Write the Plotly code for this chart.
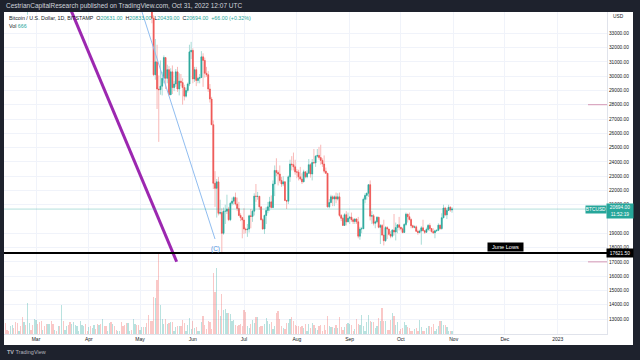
import plotly.graph_objects as go
import pandas as pd

# ---------------- data ----------------
dates = pd.date_range("2022-02-11", "2022-10-31", freq="D")
first_open = 43550
last_open = 20631      # open of the current (Oct 31) bar, from the legend

close = [
    # Feb 11-28
    42400, 42200, 42050, 42550, 44550, 43900, 40550, 40000, 40100, 38400, 37050, 38250, 37250, 38350, 39200, 39100, 37700, 43200,
    # Mar
    44400, 43900, 42450, 39150, 39400, 38400, 38050, 38750, 41950, 39450, 38750, 38800, 37800, 39650, 39300, 41100, 40950, 41800,
    42200, 41250, 41050, 42350, 42900, 43950, 44350, 44500, 46800, 47100, 47450, 47050, 45500,
    # Apr
    46300, 45800, 46400, 46600, 45500, 43200, 43450, 42250, 42750, 42150, 39500, 40100, 41150, 39950, 40550, 40400, 39700, 40800,
    41500, 41350, 40500, 39700, 39450, 39450, 40450, 38100, 39250, 39750, 38600, 37650,
    # May
    38450, 38500, 37700, 39700, 36550, 36000, 35450, 34050, 30100, 31000, 29100, 29050, 29300, 29850, 31300, 29850, 30450, 28700,
    30300, 29200, 29450, 30300, 29100, 29650, 29550, 29200, 28600, 29000, 29450, 31700, 31800,
    # Jun
    29800, 30450, 29700, 29850, 29900, 31350, 31100, 30200, 30100, 29100, 28400, 26600, 22500, 22150, 22600, 20400, 20450, 19000,
    20550, 20550, 20700, 19950, 21100, 21250, 21500, 21050, 20730, 20250, 20100, 19930,
    # Jul
    19300, 19250, 19300, 20220, 20180, 20550, 21600, 21580, 21590, 20850, 19950, 19300, 20250, 20600, 20850, 21200, 20800, 22450,
    23400, 23250, 23150, 22700, 22450, 22600, 21300, 21250, 22950, 23850, 23800, 23650, 23300,
    # Aug
    23280, 22950, 22800, 22600, 23300, 22950, 23200, 23800, 23150, 23950, 23930, 24400, 24450, 24300, 24100, 23850, 23350, 23200,
    20850, 21150, 21550, 21400, 21550, 21400, 21550, 20250, 20050, 19550, 20300, 19800, 20050,
    # Sep
    20130, 19950, 19830, 20000, 19800, 18800, 19300, 19320, 21380, 21650, 21800, 22400, 20200, 20230, 19700, 19800, 20120, 19420,
    19540, 18880, 18480, 19400, 19300, 18930, 18800, 19220, 19090, 19400, 19590, 19420,
    # Oct
    19310, 19060, 19620, 20340, 20160, 19960, 19530, 19420, 19450, 19140, 19050, 19160, 19380, 19180, 19070, 19270, 19550, 19330,
    19120, 19040, 19170, 19210, 19570, 19330, 20090, 20770, 20290, 20600, 20820, 20628, 20694,
]

high = [
    44000, 42900, 42750, 42850, 44700, 44550, 44150, 40950, 40450, 40150, 39450, 38400, 39250, 38800, 39700, 40250, 39800, 44100,
    44950, 45400, 44100, 42500, 39650, 39700, 39500, 39400, 42400, 42000, 40200, 39350, 39300, 39900, 39900, 41700, 41450, 42300,
    42400, 42300, 41500, 43300, 43000, 44200, 45100, 44800, 46900, 48200, 48100, 47650, 47600,
    46700, 47200, 47450, 46900, 47200, 45500, 43900, 43950, 42800, 43400, 42400, 40700, 41550, 41500, 40850, 40700, 40600, 41100,
    41750, 42950, 42950, 40800, 39980, 39900, 40600, 40800, 39450, 40350, 39950, 38800,
    38700, 39150, 38650, 40000, 39850, 36650, 36150, 35500, 34250, 32600, 32200, 30050, 31100, 30300, 31450, 31300, 30800, 30700,
    30550, 30750, 29650, 30500, 30650, 30200, 30150, 29850, 29400, 29200, 29550, 32200, 32400,
    31950, 30650, 30650, 29950, 30150, 31750, 31600, 31300, 30650, 30350, 29450, 28550, 26900, 23350, 22800, 22950, 21350, 20750,
    20800, 21000, 21700, 20850, 21200, 21500, 21600, 21850, 21500, 21200, 20400, 20150,
    20750, 19400, 19650, 20300, 20700, 20650, 21800, 22450, 21900, 21600, 20850, 20050, 20300, 20850, 21200, 21550, 21650, 22700,
    23750, 24250, 23400, 23750, 22950, 23000, 22650, 21300, 23050, 24150, 24400, 24650, 24150,
    23500, 23450, 23650, 23200, 23450, 23350, 23400, 24200, 23900, 24200, 24900, 24450, 24900, 25050, 25200, 24250, 24450, 23600,
    23200, 21400, 21700, 21650, 21650, 21850, 21800, 21850, 20350, 20150, 20400, 20550, 20450,
    20200, 20450, 20050, 20050, 20050, 20150, 19450, 19450, 21500, 21800, 21850, 22450, 22700, 20550, 20350, 19900, 20200, 20150,
    19650, 19650, 19950, 19500, 19500, 19300, 19150, 19300, 20350, 19750, 19650, 20150,
    19450, 19400, 19700, 20450, 20350, 20450, 20050, 19600, 19550, 19550, 19250, 19250, 19500, 19950, 19200, 19400, 19650, 19700,
    19350, 19350, 19250, 19250, 19700, 19600, 20400, 21000, 20850, 20750, 21000, 20900, 20833,
]

low = [
    42000, 41800, 41900, 41600, 42450, 43350, 40200, 39500, 39650, 38050, 36800, 36400, 37050, 34300, 38000, 38600, 37000, 37500,
    43000, 43350, 41850, 38600, 38700, 38100, 37200, 37900, 38650, 38600, 38300, 38700, 37600, 37600, 38150, 38900, 40550, 40200,
    41500, 40900, 40500, 40900, 42000, 42600, 43600, 44100, 44350, 46600, 46600, 46550, 45200,
    44200, 45700, 45600, 45150, 45400, 43100, 42750, 42200, 42150, 42000, 39250, 39200, 39600, 39600, 39800, 39950, 39600, 38550,
    40550, 41100, 39800, 39200, 39300, 38200, 38200, 37900, 37850, 38850, 38200, 37600,
    37400, 38050, 37500, 37650, 35800, 35300, 34750, 33700, 30000, 29750, 27700, 25400, 28700, 28650, 29500, 29100, 29500, 28650,
    28700, 28750, 28950, 29250, 28900, 28650, 29300, 28000, 28300, 28500, 28850, 29300, 31200,
    29500, 29600, 29300, 29500, 29500, 29900, 29250, 29900, 29950, 28900, 28150, 26600, 22100, 20850, 20100, 20250, 20300, 17621.5,
    18900, 19650, 20350, 19850, 19850, 20950, 21000, 20950, 20550, 20200, 19850, 18650,
    18950, 19000, 18750, 19050, 19350, 19800, 20250, 21200, 21350, 20650, 19900, 19250, 18950, 19650, 20400, 20550, 20750, 20800,
    21600, 23000, 22350, 22550, 22250, 22300, 21250, 20700, 21050, 22600, 23400, 23400, 23100,
    22850, 22700, 22700, 22450, 22600, 22850, 22850, 23150, 22900, 22700, 23900, 23650, 24300, 24150, 23800, 23650, 23200, 23150,
    20800, 20750, 21100, 20900, 20900, 21100, 21300, 20150, 19850, 19550, 19600, 19550, 19800,
    19650, 19800, 19650, 19650, 19650, 18650, 18550, 19000, 19300, 21100, 21350, 21550, 19900, 19650, 19550, 19350, 19700, 19350,
    18250, 18800, 18150, 18400, 18600, 18850, 18650, 18700, 18850, 18500, 19000, 19200,
    19200, 19000, 19050, 19500, 19750, 19900, 19350, 19350, 19350, 19100, 18900, 19000, 18200, 19150, 18950, 19050, 19150, 19150,
    19050, 18950, 18650, 19100, 19150, 19250, 19250, 20050, 20200, 20000, 20550, 20500, 20439,
]

volume = [
    2200, 800, 600, 1600, 1800, 1200, 2400, 2200, 600, 1600, 3400, 2400, 1800, 6200, 2200, 800, 1800, 3000, 2800, 2000,
    2400, 2600, 800, 1600, 2000, 2000, 2000, 2600, 2000, 800, 600, 1600, 1600, 5800, 2600, 800, 1600, 1800, 2400, 2000,
    2400, 1800, 1600, 600, 2600, 1800, 1600, 2000, 600, 1400, 1600, 1200, 1800, 1000, 2000,
    1800, 2000, 3000, 1600, 1600, 600, 2200, 2400, 2000, 1600, 800, 600, 600, 2400, 1600, 1800, 2200, 2200, 600, 800,
    3000, 2000, 1800, 1800, 800, 1400, 1400, 1400, 2200, 3800, 2600, 2600, 7400,
    7200, 10800, 16000, 5800, 3000, 2000, 3000, 2000, 2200, 2400, 2400, 600, 1400, 1600, 1600, 1600, 2800, 2200, 600, 1800,
    3200, 1000, 2600, 1200, 1400, 600, 600, 2400, 3600, 1800, 1000, 2600, 2400, 1000, 12200, 8400, 13200, 4800, 3600, 8000,
    4800, 5000, 4200, 4200, 4000, 2600, 2800, 1800, 1600, 1800, 2000, 1600, 4800, 4400, 1600, 1200, 2000, 2800, 2200, 3400,
    3400, 1400, 1600, 1600, 2000, 3200, 2600, 2000, 2400, 1000, 1600, 4200, 4600, 3000, 1600, 1200, 1000, 2200, 2200, 3000,
    3400, 2600, 1800, 1600, 1600, 1400, 1600,
    1200, 2000, 600, 2000, 1200, 2200, 1800, 1200, 800, 1600, 1800, 600, 1800, 800, 3600, 1600, 1400, 1400,
    1200, 1800, 1200, 3400, 1400, 800, 1400, 2000, 2200, 2000, 1800, 600, 1000, 3000, 2000, 1800, 3800, 1600, 600,
    2400, 3800, 2600, 2400, 2400, 1200, 1600, 3200, 2600, 5200, 2600, 2600, 800, 800, 2800, 4200, 3600, 1800, 2400,
    600, 1000, 1200, 2400, 1800, 1400, 1200, 600, 600, 1000, 1200, 600, 2800, 1400, 600, 600, 1200, 1600, 1600, 1400,
    2000, 600, 1000, 1600, 2600, 2600, 1800, 1800, 1400, 600, 600, 666,
]

assert len(close) == len(dates) == len(high) == len(low) == len(volume), (len(dates), len(close), len(high), len(low), len(volume))

open_ = [first_open] + close[:-2] + [last_open]
body_hi = [max(o, c) for o, c in zip(open_, close)]
body_lo = [min(o, c) for o, c in zip(open_, close)]

# drawings on the chart
purple_x = ["2022-03-01", "2022-05-22 12:00"]
purple_y = [40440, 17010]
blue_x = ["2022-04-28", "2022-06-14"]
blue_y = [36040, 18600]
june_low = 17621.5
last_price = close[-1]
alert_levels = [28000, 17000]

# price-scale labels (20000 sits under the live-price tag in the reference)
price_ticks = [13000, 14000, 15000, 16000, 17000, 18000, 19000, 21000, 22000, 23000, 24000,
               25000, 26000, 27000, 28000, 29000, 30000, 31000, 32000, 33000]
month_ticks = ["2022-03-01", "2022-04-01", "2022-05-01", "2022-06-01", "2022-07-01", "2022-08-01",
               "2022-09-01", "2022-10-01", "2022-11-01", "2022-12-01", "2023-01-01"]
month_labels = ["Mar", "Apr", "May", "Jun", "Jul", "Aug", "Sep", "Oct", "Nov", "Dec", "2023"]

# ---------------- styling ----------------
UP, DN = "#26a69a", "#ef5350"
UP_W, DN_W = "#a8dbd6", "#f8b8b7"
UP_V, DN_V = "rgba(38,166,154,0.32)", "rgba(239,83,80,0.32)"
TXT = "#131722"
FONT = "Liberation Sans"
FRAME = "#1e222d"

W, H = 640, 360
L, R, T, B = 4, 33, 12, 26
PW, PH = W - L - R, H - T - B


def px(x):
    return (x - L) / PW


def py(y):
    return (H - B - y) / PH


vol_colors = [UP_V if c >= o else DN_V for o, c in zip(open_, close)]

fig = go.Figure()

fig.add_trace(go.Bar(x=dates, y=volume, marker=dict(color=vol_colors, line=dict(width=0)),
                     yaxis="y2", width=0.72 * 86400000, hoverinfo="skip", showlegend=False))

fig.add_trace(go.Candlestick(
    x=dates, open=open_, high=high, low=low, close=close,
    increasing=dict(line=dict(color=UP_W, width=1), fillcolor=UP_W),
    decreasing=dict(line=dict(color=DN_W, width=1), fillcolor=DN_W),
    whiskerwidth=0, showlegend=False, hoverinfo="skip"))

fig.add_trace(go.Candlestick(
    x=dates, open=open_, high=body_hi, low=body_lo, close=close,
    increasing=dict(line=dict(color=UP, width=0.6), fillcolor=UP),
    decreasing=dict(line=dict(color=DN, width=0.6), fillcolor=DN),
    whiskerwidth=0, showlegend=False, hoverinfo="skip"))

fig.add_trace(go.Scatter(x=blue_x, y=blue_y, mode="lines",
                         line=dict(color="#90bdf0", width=1), showlegend=False, hoverinfo="skip"))
fig.add_trace(go.Scatter(x=purple_x, y=purple_y, mode="lines",
                         line=dict(color="#9c27b0", width=3), showlegend=False, hoverinfo="skip"))

shapes = [
    dict(type="rect", xref="paper", yref="paper", x0=px(4), x1=px(633), y0=py(345), y1=py(12),
         fillcolor="white", line=dict(width=0), layer="below"),
    dict(type="line", xref="paper", yref="y", x0=0, x1=1, y0=last_price, y1=last_price,
         line=dict(color="rgba(38,166,154,0.35)", width=1)),
    dict(type="line", xref="paper", yref="y", x0=0, x1=1, y0=june_low, y1=june_low,
         line=dict(color="#000000", width=2)),
]
for lv in alert_levels:
    shapes.append(dict(type="line", xref="paper", yref="y", x0=px(588), x1=1, y0=lv, y1=lv,
                       line=dict(color="#d596b4", width=1)))

teal = UP
prev_close = close[-2]
chg = close[-1] - prev_close
legend1 = (f"<span style='color:{TXT}'>Bitcoin / U.S. Dollar, 1D, BITSTAMP</span>&nbsp;&nbsp;"
           f"<span style='color:{TXT}'>O</span><span style='color:{teal}'>{open_[-1]:.2f}</span>&nbsp;&nbsp;"
           f"<span style='color:{TXT}'>H</span><span style='color:{teal}'>{high[-1]:.2f}</span>&nbsp;&nbsp;"
           f"<span style='color:{TXT}'>L</span><span style='color:{teal}'>{low[-1]:.2f}</span>&nbsp;&nbsp;"
           f"<span style='color:{TXT}'>C</span><span style='color:{teal}'>{close[-1]:.2f}</span>&nbsp;&nbsp;"
           f"<span style='color:{teal}'>+{chg:.2f} (+{chg / prev_close * 100:.2f}%)</span>")

annotations = [
    dict(xref="paper", yref="paper", x=px(4), y=py(6), xanchor="left", yanchor="middle", showarrow=False,
         text="CestrianCapitalResearch published on TradingView.com, Oct 31, 2022 12:07 UTC",
         font=dict(family=FONT, size=6.5, color="#d1d4dc")),
    dict(xref="paper", yref="paper", x=px(7), y=py(18), xanchor="left", yanchor="middle", showarrow=False,
         text=legend1, font=dict(family=FONT, size=5.3, color=TXT)),
    dict(xref="paper", yref="paper", x=px(7), y=py(25.5), xanchor="left", yanchor="middle", showarrow=False,
         text=f"<span style='color:{TXT}'>Vol</span>&nbsp;<span style='color:{teal}'>{volume[-1]}</span>",
         font=dict(family=FONT, size=5.3, color=TXT)),
    dict(xref="paper", yref="paper", x=px(611), y=py(17), xanchor="left", yanchor="middle", showarrow=False,
         text="USD", font=dict(family=FONT, size=4.8, color=TXT)),
    dict(xref="paper", yref="paper", x=px(5), y=py(352), xanchor="left", yanchor="middle", showarrow=False,
         text="<b>TV</b> TradingView", font=dict(family=FONT, size=5.5, color="#b2b5be")),
    dict(xref="paper", yref="y", x=px(620), y=last_price, xanchor="center", yanchor="middle", yshift=-2,
         showarrow=False, text=f"{last_price:.2f}<br>11:52:19", bgcolor=UP, width=26, height=14, borderpad=0,
         font=dict(family=FONT, size=4.8, color="white")),
    dict(xref="paper", yref="y", x=px(596), y=last_price, xanchor="center", yanchor="middle",
         showarrow=False, text="BTCUSD", bgcolor=UP, width=20, height=7, borderpad=0,
         font=dict(family=FONT, size=4.8, color="white")),
    dict(xref="paper", yref="y", x=px(620), y=june_low, xanchor="center", yanchor="middle",
         showarrow=False, text=f"{june_low:.2f}", bgcolor="#000000", width=26, height=8, borderpad=0,
         font=dict(family=FONT, size=4.8, color="white")),
    dict(xref="x", yref="y", x="2022-12-01 10:00", y=june_low, xanchor="center", yanchor="bottom", yshift=1,
         showarrow=False, text="June Lows", bgcolor="#000000", width=35, height=8, borderpad=0,
         font=dict(family=FONT, size=5.6, color="white")),
    dict(xref="x", yref="y", x="2022-06-14", y=17900, xanchor="center", yanchor="middle",
         showarrow=False, text="(C)", font=dict(family=FONT, size=6.5, color="#4d8fe0")),
]

fig.update_layout(
    width=W, height=H, autosize=False,
    margin=dict(l=L, r=R, t=T, b=B, pad=0),
    paper_bgcolor=FRAME, plot_bgcolor="white",
    showlegend=False, bargap=0,
    shapes=shapes, annotations=annotations,
    font=dict(family=FONT, size=5, color=TXT),
    xaxis=dict(type="date", range=["2022-02-10 05:30", "2023-01-29 22:00"],
               tickmode="array", tickvals=month_ticks, ticktext=month_labels,
               tickfont=dict(family=FONT, size=5, color=TXT),
               showgrid=True, gridcolor="#f0f3fa", gridwidth=1,
               showline=True, linecolor="#e0e3eb", linewidth=1,
               ticks="", zeroline=False, rangeslider=dict(visible=False), fixedrange=True),
    yaxis=dict(side="right", range=[11950, 34490], tickmode="array", tickvals=price_ticks,
               tickformat=".2f", tickfont=dict(family=FONT, size=4.8, color=TXT),
               showgrid=True, gridcolor="#f0f3fa", gridwidth=1,
               showline=True, linecolor="#e0e3eb", linewidth=1,
               ticks="", zeroline=False, fixedrange=True),
    yaxis2=dict(overlaying="y", range=[0, 64400], visible=False, fixedrange=True),
)

fig.write_html("out.html", config={"displayModeBar": False, "staticPlot": True},
               post_script="document.body.style.margin='0px';document.body.style.overflow='hidden';")
